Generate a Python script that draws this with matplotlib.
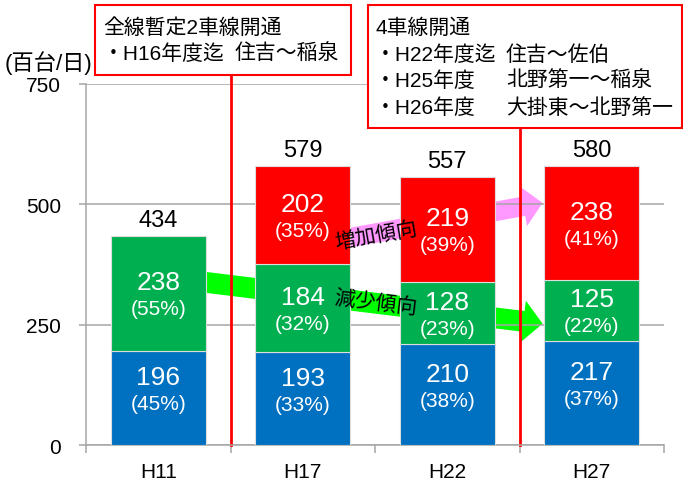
import matplotlib
matplotlib.use('Agg')
import matplotlib.pyplot as plt
import numpy as np
from matplotlib.patches import Rectangle, FancyArrowPatch

# 交通量（百台/日）
categories = ['H11', 'H17', 'H22', 'H27']
blue_vals = [196, 193, 210, 217]
green_vals = [238, 184, 128, 125]
red_vals = [0, 202, 219, 238]          # H11 は該当なし
blue_pct = ['(45%)', '(33%)', '(38%)', '(37%)']
green_pct = ['(55%)', '(32%)', '(23%)', '(22%)']
red_pct = ['', '(35%)', '(39%)', '(41%)']
totals = [434, 579, 557, 580]

unit_label = '(百台/日)'
box1_lines = ['全線暫定2車線開通', ('・H16年度迄', '住吉～稲泉')]
box2_lines = ['4車線開通',
              ('・H22年度迄', '住吉～佐伯'),
              ('・H25年度', '北野第一～稲泉'),
              ('・H26年度', '大掛東～北野第一')]

BLUE = '#0070C0'
GREEN = '#00B050'
RED = '#FF0000'
GRID = '#A6A6A6'
EDGE = '#DDDDDD'

plt.rcParams['font.family'] = ['Liberation Sans', 'Noto Sans CJK JP']

W, H = 683, 481


def fx(px):
    return px / W


def fy(py):
    return 1 - py / H


fig = plt.figure(figsize=(W / 100, H / 100), dpi=100)
ax = fig.add_axes([fx(86), fy(446), (664 - 86) / W, (446 - 85) / H])

x = np.arange(len(categories))
bw = 0.66
blue = np.array(blue_vals)
green = np.array(green_vals)
red = np.array(red_vals)

ax.bar(x, blue, bw, color=BLUE, edgecolor=EDGE, linewidth=0.8, zorder=3)
ax.bar(x, green, bw, bottom=blue, color=GREEN, edgecolor=EDGE, linewidth=0.8, zorder=3)
has_red = red > 0
ax.bar(x[has_red], red[has_red], bw, bottom=(blue + green)[has_red],
       color=RED, edgecolor=EDGE, linewidth=0.8, zorder=3)


def seg_label(xi, mid, val, pct, up, down):
    ax.annotate(str(val), (xi, mid), xytext=(0, up), textcoords='offset points',
                ha='center', va='center', color='white', fontsize=19, zorder=6)
    ax.annotate(pct, (xi, mid), xytext=(0, down), textcoords='offset points',
                ha='center', va='center', color='white', fontsize=15, zorder=6)


for i in range(len(categories)):
    seg_label(x[i], blue[i] / 2, blue[i], blue_pct[i], 15, -4)
    seg_label(x[i], blue[i] + green[i] / 2, green[i], green_pct[i], 8, -11)
    if red[i] > 0:
        seg_label(x[i], blue[i] + green[i] + red[i] / 2, red[i], red_pct[i], 8, -11)
    ax.annotate(str(totals[i]), (x[i], totals[i]), xytext=(0, 11.5),
                textcoords='offset points', ha='center', va='center',
                fontsize=17, zorder=6)

# 傾向の矢印（棒の背面）
green_arrow = FancyArrowPatch((0.0, 350), (2.66, 252),
                              arrowstyle='simple,head_width=30,head_length=14,tail_width=15',
                              mutation_scale=1, color='#00FF00', lw=0, zorder=0.3,
                              shrinkA=0, shrinkB=0)
pink_arrow = FancyArrowPatch((1.0, 413), (2.66, 503),
                             arrowstyle='simple,head_width=29,head_length=14,tail_width=14',
                             mutation_scale=1, color='#FF99FF', lw=0, zorder=0.3,
                             shrinkA=0, shrinkB=0)
ax.add_patch(green_arrow)
ax.add_patch(pink_arrow)
ax.text(1.507, 436, '増加傾向', rotation=10, rotation_mode='anchor',
        ha='center', va='center', fontsize=15, zorder=7)
ax.text(1.507, 297, '減少傾向', rotation=-7, rotation_mode='anchor',
        ha='center', va='center', fontsize=15, zorder=7)

# 開通時期の区切り線
for xv in [0.5, 2.5]:
    ax.plot([xv, xv], [0, 780], color=RED, lw=2, clip_on=False, zorder=2)

ax.set_xlim(-0.5, 3.5)
ax.set_ylim(0, 750)
ax.set_yticks([0, 250, 500, 750])
ax.yaxis.grid(True, color=GRID, lw=1.1)
ax.set_axisbelow(True)
ax.set_xticks(x)
ax.set_xticklabels(categories)
ax.set_xticks(np.arange(-0.5, 4, 1), minor=True)
ax.tick_params(axis='x', which='major', length=0, pad=12, labelsize=15)
ax.tick_params(axis='x', which='minor', length=6, width=1.1, color=GRID)
ax.tick_params(axis='y', length=5, width=1.1, color=GRID, pad=13, labelsize=15)
for s in ['top', 'right']:
    ax.spines[s].set_visible(False)
for s in ['left', 'bottom']:
    ax.spines[s].set_color(GRID)
    ax.spines[s].set_linewidth(1.1)

fig.text(fx(5), fy(63), unit_label, ha='left', va='center', fontsize=16)

# 注記ボックス
fig.add_artist(Rectangle((fx(95), fy(76)), (351 - 95) / W, 70 / H,
                         transform=fig.transFigure, fc='white', ec=RED, lw=1.5, zorder=4))
fig.add_artist(Rectangle((fx(368), fy(129)), (682 - 368) / W, 123 / H,
                         transform=fig.transFigure, fc='white', ec=RED, lw=1.5, zorder=4))


def box_text(lines, x0, x1, y0, step):
    for k, line in enumerate(lines):
        yy = fy(y0 + k * step)
        if isinstance(line, tuple):
            fig.text(fx(x0), yy, line[0], ha='left', va='center', fontsize=15, zorder=5)
            fig.text(fx(x1), yy, line[1], ha='left', va='center', fontsize=15, zorder=5)
        else:
            fig.text(fx(x0), yy, line, ha='left', va='center', fontsize=15, zorder=5)


box_text(box1_lines, 103, 235, 28, 26)
box_text(box2_lines, 375, 506, 28, 26.7)

fig.savefig('out.png', dpi=100)
